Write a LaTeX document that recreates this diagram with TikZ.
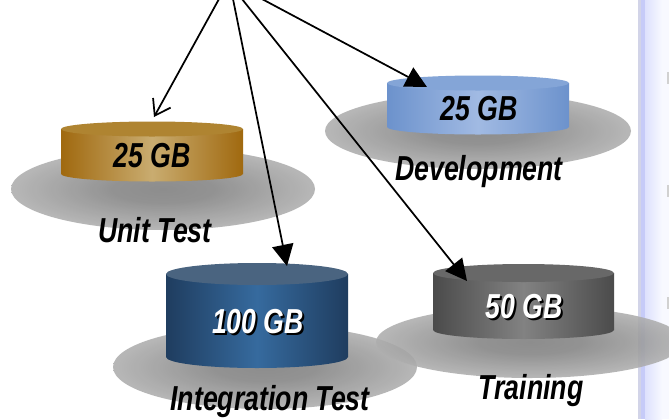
\documentclass[tikz,border=0pt]{standalone}
\usepackage{fontspec}
\setmainfont{Liberation Sans}
\newfontfamily\volfont[FakeStretch=0.77]{Liberation Sans}
\usetikzlibrary{arrows.meta}
\definecolor{shadowrim}{HTML}{BDBDBD}
\definecolor{shadowmid}{HTML}{7E7E7E}
\definecolor{panelband}{HTML}{D2D4E8}
\definecolor{panelmid}{HTML}{C6CBF8}
\definecolor{panelleft}{HTML}{DDE1FD}
\definecolor{panelright}{HTML}{F8F9FF}
\pgfdeclareradialshading{diskshadow}{\pgfpoint{0bp}{0bp}}{color(0bp)=(shadowmid); color(8bp)=(shadowmid!92!shadowrim); color(31bp)=(shadowrim); color(50bp)=(shadowrim)}
\newcommand{\whitevol}[1]{\rlap{\kern1.5pt\raisebox{-1.5pt}{\textcolor{black}{#1}}}\textcolor{white}{#1}}
\tikzset{
  vol/.style={font=\volfont\fontsize{26}{28}\selectfont\bfseries\itshape, inner sep=0pt},
  openarrow/.style={black, line width=1.3pt, -{Straight Barb[length=11pt,width=15pt,line width=1.3pt]}},
  fullarrow/.style={black, line width=1.3pt, -{Triangle[length=16pt,width=16pt]}},
  disk/.style={shading=diskshadow, fill opacity=.88}
}
\begin{document}
\begin{tikzpicture}[x=.75pt,y=-.75pt]
\path[use as bounding box, clip] (0,0) rectangle (669,419);
\fill[white] (0,0) rectangle (669,419);
\fill[panelband] (638,0) rectangle (641,419);
\fill[panelmid] (641,0) rectangle (645,419);
\shade[left color=panelleft, right color=panelright] (645,0) rectangle (662,419);
\fill[panelright] (662,0) rectangle (669,419);
\foreach \y in {72,185,297} \fill[black!18] (667,\y) rectangle (669,\y+12);

\foreach \cx/\cy/\rx/\ry in {163/189/152/41, 478/131/153/38, 265/367/152/42, 530/342/154/36}
  \path[disk] (\cx,\cy) ellipse [x radius=\rx, y radius=\ry];

\foreach \xl/\xr/\ya/\yb/\ry/\edge/\mid/\lid in {
  61/243/129/174/7.5/A0690F/C9AC70/AF8431,
  387/569/83/127/7.5/6C92CC/A1BAE3/84A5D7,
  166/348/274/357/11/1F3D5F/366A9E/4A6480,
  433/614/273/330/9/4B4B4B/828282/686868}
{
  \definecolor{voledge}{HTML}{\edge}
  \definecolor{volmid}{HTML}{\mid}
  \definecolor{vollid}{HTML}{\lid}
  \shade[left color=voledge, right color=voledge, middle color=volmid]
    (\xl,\ya) -- (\xl,\yb) arc [start angle=180, end angle=0, x radius={(\xr-\xl)/2}, y radius=\ry] -- (\xr,\ya) -- cycle;
  \fill[vollid] ({(\xl+\xr)/2},\ya) ellipse [x radius={(\xr-\xl)/2}, y radius=\ry];
}

\node[vol] (unitsize) at (152,156) {25 GB};
\node[vol] (devsize) at (479,109) {25 GB};
\node[vol] (intsize) at (258,323) {\whitevol{100 GB}};
\node[vol] (trainsize) at (524,308) {\whitevol{50 GB}};
\node[vol] (unitname) at (155,230) {Unit Test};
\node[vol] (devname) at (479,172) {Development};
\node[vol] (intname) at (270,402) {Integration Test};
\node[vol] (trainname) at (531,391) {Training};

\coordinate (unitfrom) at (219,-1);
\coordinate (intfrom) at (233,-1);
\coordinate (trainfrom) at (242,-1);
\coordinate (devfrom) at (262,-1);
\coordinate (unitto) at (154,117);
\coordinate (intto) at (287,266);
\coordinate (trainto) at (467,281);
\coordinate (devto) at (427,87);
\draw[openarrow] (unitfrom) -- (unitto);
\draw[fullarrow] (intfrom) -- (intto);
\draw[fullarrow] (trainfrom) -- (trainto);
\draw[fullarrow] (devfrom) -- (devto);
\end{tikzpicture}
\end{document}
